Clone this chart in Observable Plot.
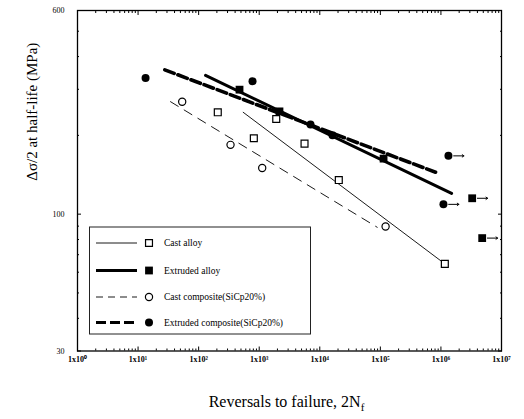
<!DOCTYPE html>
<html><head><meta charset="utf-8">
<script src="https://cdn.jsdelivr.net/npm/d3@7"></script>
<script src="https://cdn.jsdelivr.net/npm/@observablehq/plot@0.6"></script>
<style>body{margin:0;background:#fff}#chart{position:relative;width:524px;height:419px}</style>
</head><body><div id="chart"></div>
<script>
// ---- data ----
const castAlloyX = [207, 815, 1910, 5600, 20600, 1.16e6];
const castAlloyY = [245, 195, 231, 186, 135, 64.6];
const extAlloyX = [473, 2160, 1.13e5, 3.28e6, 4.8e6];
const extAlloyY = [299, 247, 163, 115, 81];
const extAlloyRunout = [false, false, false, true, true];
const castCompX = [53.5, 336, 1120, 1.22e5];
const castCompY = [269, 184, 150, 89.7];
const extCompX = [13.3, 775, 7030, 16200, 1.33e6, 1.10e6];
const extCompY = [331, 322, 220, 200, 167, 109];
const extCompRunout = [false, false, false, false, true, true];
// fitted lines (end points)
const castAlloyFitX = [544, 1.16e6], castAlloyFitY = [245, 64.6];
const extAlloyFitX = [130, 1.5e6], extAlloyFitY = [339, 120];
const castCompFitX = [34.3, 88700], castCompFitY = [269, 89.1];
const extCompFitX = [27.6, 8.15e5], extCompFitY = [356, 144.6];
// ticks
const xTicks = [1, 10, 100, 1e3, 1e4, 1e5, 1e6, 1e7];
const xTickLabels = ["1x10⁰", "1x10¹", "1x10²", "1x10³", "1x10⁴", "1x10⁵", "1x10⁶", "1x10⁷"];
const yTicks = [30, 100, 600];
const yTickLabels = ["30", "100", "600"];
const seriesNames = ["Cast alloy", "Extruded alloy", "Cast composite(SiCp20%)", "Extruded composite(SiCp20%)"];

const zip = (xs, ys, extra) => xs.map((x, i) => ({x, y: ys[i], runout: extra ? extra[i] : false}));
const castAlloy = zip(castAlloyX, castAlloyY);
const extAlloy = zip(extAlloyX, extAlloyY, extAlloyRunout);
const castComp = zip(castCompX, castCompY);
const extComp = zip(extCompX, extCompY, extCompRunout);
const runouts = [...extAlloy, ...extComp].filter(d => d.runout);

const minorX = [];
for (let d = 1; d < 1e7; d *= 10) for (let k = 2; k <= 9; k++) minorX.push(d * k);
const minorY = [40, 50, 60, 70, 80, 90, 200, 300, 400, 500];

const xfmt = d => xTickLabels[xTicks.indexOf(d)] ?? "";
const yfmt = d => yTickLabels[yTicks.indexOf(d)] ?? "";

const line = (xs, ys, opts) => Plot.line(zip(xs, ys), {x: "x", y: "y", stroke: "black", ...opts});

const plot = Plot.plot({
  width: 524, height: 419,
  marginLeft: 77, marginRight: 23, marginTop: 10, marginBottom: 68.5,
  style: {fontFamily: "'Liberation Serif', serif", background: "#fff", color: "#000"},
  x: {type: "log", domain: [1, 1e7], label: null},
  y: {type: "log", domain: [30, 600], label: null},
  marks: [
    Plot.axisX({ticks: xTicks, tickSize: -4, tickPadding: 9, tickFormat: xfmt, fontSize: 8, fontWeight: "bold", label: null}),
    Plot.axisX({ticks: minorX, tickSize: -2, fill: "none", label: null}),
    Plot.axisX({anchor: "top", ticks: xTicks, tickSize: -4, fill: "none", label: null}),
    Plot.axisX({anchor: "top", ticks: minorX, tickSize: -2, fill: "none", label: null}),
    Plot.axisY({ticks: yTicks, tickSize: -4, tickPadding: 17, tickFormat: yfmt, fontSize: 8, label: null}),
    Plot.axisY({ticks: minorY, tickSize: -2, fill: "none", label: null}),
    Plot.axisY({anchor: "right", ticks: yTicks, tickSize: -4, fill: "none", label: null}),
    Plot.axisY({anchor: "right", ticks: minorY, tickSize: -2, fill: "none", label: null}),
    Plot.frame({strokeWidth: 1.3}),
    line(castAlloyFitX, castAlloyFitY, {strokeWidth: 0.9}),
    line(extAlloyFitX, extAlloyFitY, {strokeWidth: 3}),
    line(castCompFitX, castCompFitY, {strokeWidth: 0.9, strokeDasharray: "9,7"}),
    line(extCompFitX, extCompFitY, {strokeWidth: 3.6, strokeDasharray: "10,4"}),
    Plot.arrow(runouts, {x1: d => d.x * 1.22, x2: d => d.x * 1.8, y1: "y", y2: "y", stroke: "black", strokeWidth: 1, headLength: 3, headAngle: 70}),
    Plot.dot(castAlloy, {x: "x", y: "y", symbol: "square", r: 3.9, fill: "white", stroke: "black", strokeWidth: 1.2}),
    Plot.dot(castComp, {x: "x", y: "y", symbol: "circle", r: 3.6, fill: "white", stroke: "black", strokeWidth: 1.2}),
    Plot.dot(extAlloy, {x: "x", y: "y", symbol: "square", r: 4.4, fill: "black"}),
    Plot.dot(extComp, {x: "x", y: "y", symbol: "circle", r: 4, fill: "black"}),
    Plot.text(["Δσ/2 at half-life (MPa)"], {frameAnchor: "left", dx: -45, rotate: -90, fontSize: 15}),
    Plot.text(["Reversals to failure, 2N"], {frameAnchor: "bottom", dy: 56, dx: -3, fontSize: 16})
  ]
});

const svg = d3.select(plot);
svg.selectAll("text").filter(function() { return this.textContent === "Reversals to failure, 2N"; })
  .append("tspan").attr("dy", 4).attr("font-size", 11).text("f");

// legend
const lg = svg.append("g").attr("font-family", "'Liberation Serif', serif").attr("text-anchor", "start");
lg.append("rect").attr("x", 89.5).attr("y", 227).attr("width", 221).attr("height", 107)
  .attr("fill", "white").attr("stroke", "#222").attr("stroke-width", 1);
const legendStyles = [
  {w: 0.9, dash: null, sym: d3.symbolSquare, r: 3.9, filled: false},
  {w: 3, dash: null, sym: d3.symbolSquare, r: 4.4, filled: true},
  {w: 0.9, dash: "7,5", sym: d3.symbolCircle, r: 3.6, filled: false},
  {w: 3, dash: "10,4", sym: d3.symbolCircle, r: 4, filled: true}
];
const rowY = [243, 270.5, 297, 322.5];
seriesNames.forEach((name, i) => {
  const s = legendStyles[i], y = rowY[i];
  lg.append("line").attr("x1", 96).attr("x2", 137).attr("y1", y).attr("y2", y)
    .attr("stroke", "black").attr("stroke-width", s.w).attr("stroke-dasharray", s.dash);
  lg.append("path").attr("transform", `translate(149,${y})`)
    .attr("d", d3.symbol(s.sym, Math.PI * s.r * s.r)())
    .attr("fill", s.filled ? "black" : "white").attr("stroke", "black").attr("stroke-width", s.filled ? 0 : 1.2);
  lg.append("text").attr("x", 164).attr("y", y).attr("dy", "0.35em").attr("font-size", 9.5).attr("text-anchor", "start").text(name);
});

document.getElementById("chart").appendChild(plot);
</script>
</body></html>
